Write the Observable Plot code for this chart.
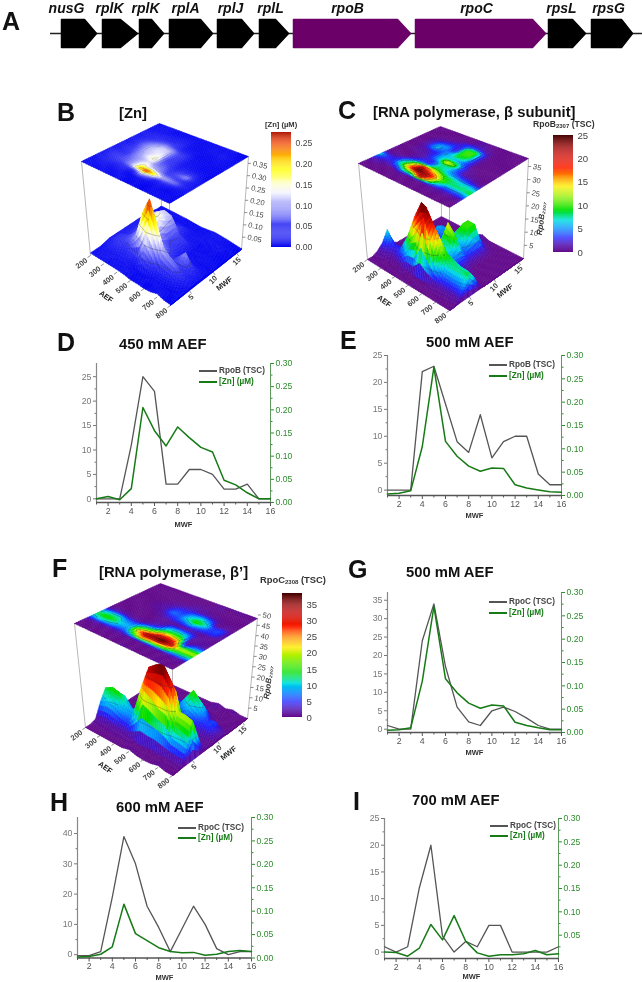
<!DOCTYPE html>
<html><head><meta charset="utf-8">
<script src="https://cdn.jsdelivr.net/npm/d3@7"></script>
<script src="https://cdn.jsdelivr.net/npm/@observablehq/plot@0.6"></script>
<style>
html,body{margin:0;padding:0;background:#fff}
#page{position:relative;width:642px;height:982px;overflow:hidden;font-family:"Liberation Sans",Arial,sans-serif;filter:blur(0.35px)}
.tag{position:absolute;font-weight:bold;font-size:25px;line-height:25px;color:#111}
.ttl{position:absolute;font-weight:bold;font-size:14.8px;line-height:14px;color:#111;white-space:nowrap}
.lg{position:absolute;font-size:8.2px;line-height:10px;white-space:nowrap;font-weight:bold}
.sw{position:absolute;height:1.5px;width:18px}
.cbt{position:absolute;font-weight:bold;font-size:8.6px;line-height:10px;color:#333;white-space:nowrap}
sub{font-size:6px;vertical-align:-1px;line-height:0}
</style></head><body><div id="page"></div>
<script>
// ---------- gene map ----------
const geneNames = ["nusG","rplK","rplK","rplA","rplJ","rplL","rpoB","rpoC","rpsL","rpsG"];
const geneStart = [61,102,139,169,217,259,293,415,548,591];
const geneShoulder = [84,120,151,200,241,275,397,532,572,621];
const geneEnd = [96,137,163,212,253,288,410,545,585,632];
const geneMid = [66,109,145,185,230,270,347,476,561,608];
const targetGene = ["rpoB","rpoC"];

// ---------- fraction axes ----------
const mwf = [1,2,3,4,5,6,7,8,9,10,11,12,13,14,15,16];
const aef = [200,250,300,350,400,450,500,550,600,650,700,750,800];

// ---------- [Zn] (uM) ----------
const zn200 = [.01,.01,.01,.015,.02,.02,.02,.02,.02,.02,.02,.02,.02,.015,.01,.01];
const zn250 = [.01,.015,.02,.03,.04,.04,.03,.03,.03,.03,.03,.03,.025,.02,.015,.01];
const zn300 = [.01,.015,.02,.04,.05,.05,.04,.05,.06,.07,.06,.04,.03,.02,.015,.01];
const zn350 = [.01,.01,.02,.03,.06,.07,.08,.09,.105,.105,.09,.06,.03,.02,.01,.01];
const zn400 = [.01,.01,.02,.04,.10,.10,.10,.125,.12,.125,.115,.07,.03,.02,.01,.01];
const zn450 = [.008,.013,.006,.03,.205,.155,.122,.163,.14,.119,.109,.048,.038,.021,.008,.008];
const zn500 = [.003,.005,.01,.105,.275,.116,.084,.063,.052,.059,.058,.023,.016,.012,.008,.007];
const zn550 = [.004,.005,.01,.07,.2,.09,.07,.05,.04,.04,.04,.02,.012,.012,.01,.01];
const zn600 = [.002,.003,.008,.024,.115,.052,.037,.022,.014,.011,.012,.006,.008,.014,.016,.014];
const zn650 = [.005,.006,.008,.025,.09,.05,.06,.03,.015,.01,.01,.008,.008,.015,.012,.012];
const zn700 = [.014,.013,.005,.022,.073,.04,.092,.037,.012,.005,.008,.008,.01,.017,.008,.01];
const zn750 = [.005,.005,.005,.012,.03,.025,.03,.02,.01,.006,.006,.006,.006,.008,.006,.006];
const zn800 = [.003,.003,.003,.005,.01,.01,.01,.008,.005,.004,.004,.004,.004,.004,.003,.003];
// trace drawn beside RpoC in the 500 mM panel
const znWithRpoC500 = [.005,.006,.01,.11,.27,.115,.085,.063,.052,.059,.057,.022,.015,.01,.006,.006];

// ---------- RpoB 2307 (TSC) ----------
const rpoB200 = [0,0,1,3,7,1,0,0,0,0,0,0,0,0,0,0];
const rpoB250 = [0,0,1,2,3,1,0,0,0,0,0,0,0,0,0,0];
const rpoB300 = [0,0,0,2,3,2,0,0,1,1,2,2,1,0,0,0];
const rpoB350 = [0,0,0,4,9,6,2,1,1,2,6,5,2,0,0,0];
const rpoB400 = [0,0,1,9,18,14,4,2,3,3,4,5,3,1,0,0];
const rpoB450 = [0,0,0,11,25,22,3,3,6,6,5,2,2,3,0,0];
const rpoB500 = [0,0,0,22,23,16,9,7,14,6,9,10,10,3,1,1];
const rpoB550 = [0,0,0,14,18,13,7,7,11,5,8,10,10,2,1,0];
const rpoB600 = [0,0,1,7,11,9,5,4,4,3,3,3,3,1,0,0];
const rpoB650 = [0,0,1,4,8,8,4,1,1,0,0,0,0,0,0,0];
const rpoB700 = [0,0,1,4,8,7,3,1,0,0,0,0,0,0,0,0];
const rpoB750 = [0,0,1,4,8,7,2,0,0,0,0,0,0,0,0,0];
const rpoB800 = [0,0,1,5,9,6,1,0,0,0,0,0,0,0,0,0];

// ---------- RpoC 2308 (TSC) ----------
const rpoC200 = [0,0,1,8,13,8,1,0,0,0,0,0,0,0,0,0];
const rpoC250 = [0,0,1,10,15,11,2,0,0,0,0,0,0,0,0,0];
const rpoC300 = [0,0,1,9,14,11,2,0,0,0,0,0,0,0,0,0];
const rpoC350 = [0,0,1,7,10,7,1,0,0,0,1,1,0,0,0,0];
const rpoC400 = [0,0,1,6,9,6,1,0,0,1,2,2,1,0,0,0];
const rpoC450 = [0,0,1,13,23,13,3,1,1,3,7,5,2,0,0,0];
const rpoC500 = [1,0,0,24,34,17,6,2,1,5,6,4.8,3,1,0,0];
const rpoC550 = [0,0,0,22,37,28,14,8,1,6,11,8,2,1,0,0];
const rpoC600 = [-.3,-.3,1,19,39,30,16,9,1,8.5,16,10,2,0,1,1];
const rpoC650 = [0,0,0,18,33,26,14,8,2,6,12,7,1,0,0,0];
const rpoC700 = [1,0,1,12,20,3,0,2,1,5,5,0,0,0,0,1];
const rpoC750 = [0,0,1,11,20,8,2,1,1,5,6,1,0,0,0,0];
const rpoC800 = [0,0,1,10,19,10,1,1,0,1,1,0,0,0,0,0];

// second-axis values
const znTicks = [0,.05,.10,.15,.20,.25,.30];
const znMinor = [.025,.075,.125,.175,.225,.275];

// colour ramps
const znStops = [0,.05,.10,.13,.155,.185,.215,.25,.276];
const znRamp = ["#0000f0","#3a3af5","#a8a8fa","#f2f2ff","#ffffc0","#ffff00","#ffc000","#f04000","#a81000"];
const rainbowStops = [0,.06,.12,.2,.27,.36,.48,.56,.64,.72,.86,1];
const rainbowRamp = ["#620a8c","#5010b0","#2020ff","#0090ff","#00e0e0","#00e000","#a0f000","#ffee00","#ff9000","#ff2000","#b80000","#400000"];

const page = document.getElementById("page");
const font = '"Liberation Sans",Arial,sans-serif';
function place(node,x,y){node.style.position="absolute";node.style.left=x+"px";node.style.top=y+"px";page.appendChild(node);return node}
function html(cls,x,y,s,color){const d=document.createElement("div");d.className=cls;d.style.left=x+"px";d.style.top=y+"px";d.innerHTML=s||"";if(color)d.style.color=color;page.appendChild(d);return d}

// ---------- A: gene map ----------
const genePts = geneNames.flatMap((g,i)=>[
  {i,g,x:geneStart[i],y:-1},{i,g,x:geneShoulder[i],y:-1},{i,g,x:geneEnd[i],y:0},{i,g,x:geneShoulder[i],y:1},{i,g,x:geneStart[i],y:1}]);
const geneColor = g=>targetGene.includes(g)?"#6a0068":"#000";
place(Plot.plot({width:642,height:60,margin:0,style:{background:"transparent",fontFamily:font},
  x:{domain:[0,642],axis:null},y:{domain:[-1.93,2.36],axis:null},
  marks:[
    Plot.ruleY([0],{x1:()=>50,x2:()=>642,stroke:"#222",strokeWidth:1.3}),
    Plot.line(genePts,{x:"x",y:"y",z:"i",fill:{value:d=>geneColor(d.g),scale:null},stroke:{value:d=>geneColor(d.g),scale:null},curve:"linear-closed"}),
    Plot.text(geneNames,{x:(d,i)=>geneMid[i],y:()=>1.76,text:d=>d,fontStyle:"italic",fontWeight:"bold",fontSize:14,fill:"#111"})
  ]}),0,0);

// ---------- 3-D panels ----------
function makeProj(c,k){
  return (a,m,z=0)=>{
    const u=(a-200)/600,v=(m-1)/15;
    const x=(1-u)*(1-v)*c.L[0]+u*(1-v)*c.B[0]+u*v*c.R[0]+(1-u)*v*c.T[0];
    const y=(1-u)*(1-v)*c.L[1]+u*(1-v)*c.B[1]+u*v*c.R[1]+(1-u)*v*c.T[1];
    return [x,y-z*k];
  };
}
function buildSurface(grid,proj,colorScale,levels,wall,sub,contourColor,contourW){
  const rows=grid.map((r,i)=>({a:aef[i],r}));
  if(wall) rows.push({a:800,r:mwf.map(()=>0)});
  const pts=[];let id=0;
  for(let i=0;i<rows.length-1;i++){
    const A=rows[i],Bb=rows[i+1];
    for(let si=0;si<sub;si++){
      for(let j=mwf.length-2;j>=0;j--){
        for(let sj=sub-1;sj>=0;sj--){
          const val=(p,q)=>{const t=(si+p)/sub,s=(sj+q)/sub;
            return (1-t)*((1-s)*A.r[j]+s*A.r[j+1])+t*((1-s)*Bb.r[j]+s*Bb.r[j+1]);};
          const pos=(p,q)=>{const t=(si+p)/sub,s=(sj+q)/sub;
            return [A.a+(Bb.a-A.a)*t,mwf[j]+s];};
          const corners=[[0,0],[1,0],[1,1],[0,1]].map(([p,q])=>{const [a,m]=pos(p,q);const v=val(p,q);const [x,y]=proj(a,m,v);return {x,y,v};});
          const mean=d3.mean(corners,c=>c.v);
          const col=colorScale.apply(mean);
          corners.forEach(c=>pts.push({id,x:c.x,y:c.y,f:col,s:col,w:.5}));
          pts.push({id,x:corners[0].x,y:corners[0].y,f:col,s:col,w:.5});
          id++;
          for(const L of levels){
            const cross=[];
            for(let e=0;e<4;e++){
              const c0=corners[e],c1=corners[(e+1)%4];
              if((c0.v-L)*(c1.v-L)<0){
                const t=(L-c0.v)/(c1.v-c0.v);
                cross.push({x:c0.x+t*(c1.x-c0.x),y:c0.y+t*(c1.y-c0.y)});
              }
            }
            if(cross.length>=2){
              pts.push({id,x:cross[0].x,y:cross[0].y,f:"none",s:contourColor,w:contourW});
              pts.push({id,x:cross[1].x,y:cross[1].y,f:"none",s:contourColor,w:contourW});
              id++;
            }
          }
        }
      }
    }
  }
  return pts;
}
function panel3D(o){
  const colorScale=Plot.scale({color:{type:"linear",domain:o.stops,range:o.ramp,clamp:true}});
  const floor=makeProj(o.floor,o.k), top=makeProj(o.top,0);
  const topPts=buildSurface(o.grid,top,colorScale,o.levelsTop,false,3,o.contourTop,.4);
  const surfPts=buildSurface(o.grid,floor,colorScale,o.levels,true,4,"#333",.3);
  const zx=z=>{const t=z*o.k/(o.floor.R[1]-o.top.R[1]);return o.floor.R[0]+(o.top.R[0]-o.floor.R[0])*t;};
  const zy=z=>floor(800,16,z)[1];
  const frameCorners=["L","R","T","B"];
  const poly=(pts)=>Plot.line(pts,{x:"x",y:"y",z:"id",fill:{value:"f",scale:null},stroke:{value:"s",scale:null},strokeWidth:{value:"w",scale:null}});
  const aefLab=[200,300,400,500,600,700,800];
  const mwfLab=[5,10,15];
  const W=o.box[2],H=o.box[3];
  const txt={fontSize:7.5,fill:"#444",fontWeight:"bold"};
  place(Plot.plot({width:W,height:H,margin:0,style:{background:"transparent",fontFamily:font,overflow:"visible"},
    x:{domain:[o.box[0],o.box[0]+W],range:[0,W],axis:null},
    y:{domain:[o.box[1],o.box[1]+H],range:[0,H],axis:null},
    marks:[
      Plot.link(frameCorners,{x1:c=>o.top[c][0],y1:c=>o.top[c][1],x2:c=>o.floor[c][0],y2:c=>o.floor[c][1],stroke:"#b8b8b8",strokeWidth:1}),
      poly(surfPts),
      poly(topPts),
      Plot.link(aefLab,{x1:d=>floor(d,1)[0],y1:d=>floor(d,1)[1],x2:d=>floor(d,1)[0]-3,y2:d=>floor(d,1)[1]+2,stroke:"#444",strokeWidth:.6}),
      Plot.link(mwfLab,{x1:d=>floor(800,d)[0],y1:d=>floor(800,d)[1],x2:d=>floor(800,d)[0]+2,y2:d=>floor(800,d)[1]+3,stroke:"#444",strokeWidth:.6}),
      Plot.link(o.zTicks,{x1:zx,y1:zy,x2:d=>zx(d)+3,y2:zy,stroke:"#444",strokeWidth:.6}),
      Plot.text(aefLab,{x:d=>floor(d,1)[0]-4,y:d=>floor(d,1)[1]+4,text:d=>String(d),rotate:-38,textAnchor:"end",...txt}),
      Plot.text(mwfLab,{x:d=>floor(800,d)[0]+3,y:d=>floor(800,d)[1]+5,text:d=>String(d),rotate:-45,textAnchor:"end",...txt}),
      Plot.text(o.zTicks,{x:d=>zx(d)+5,y:zy,text:d=>o.zFmt(d),rotate:12,textAnchor:"start",...txt,fontWeight:"normal"}),
      Plot.text(["AEF"],{x:()=>floor(550,1)[0]-31,y:()=>floor(550,1)[1]+12,text:d=>d,rotate:36,fontSize:7.5,fontWeight:"bold",fill:"#222"}),
      Plot.text(["MWF"],{x:()=>floor(800,9)[0]+16,y:()=>floor(800,9)[1]+8,text:d=>d,rotate:-38,fontSize:7.5,fontWeight:"bold",fill:"#222"}),
      ...(o.zTitle?[Plot.text([o.zTitle],{x:()=>o.zTitleAt[0],y:()=>o.zTitleAt[1],text:d=>d,rotate:-82,fontSize:8,fontWeight:"bold",fontStyle:"italic",fill:"#333"})]:[])
    ]}),o.box[0],o.box[1]);
  // colour bar
  const [cx,cy,cw,ch,cTop]=o.bar;
  const steps=d3.range(0,120).map(i=>i*cTop/120);
  place(Plot.plot({width:cw+34,height:ch+10,marginTop:5,marginBottom:5,marginLeft:0,marginRight:34,style:{background:"transparent",fontFamily:font},
    x:{domain:[0,1],axis:null},y:{domain:[0,cTop],axis:null},
    color:{type:"linear",domain:o.stops,range:o.ramp,clamp:true},
    marks:[
      Plot.rect(steps,{x1:()=>0,x2:()=>1,y1:d=>d,y2:d=>d+cTop/119,fill:d=>d}),
      Plot.axisY({anchor:"right",ticks:o.barTicks,tickFormat:o.barFmt,tickSize:0,tickPadding:4,fontSize:o.barFont,color:"#444",label:null})
    ]}),cx,cy-5);
}
const toGrid=(...rows)=>rows;
panel3D({grid:toGrid(zn200,zn250,zn300,zn350,zn400,zn450,zn500,zn550,zn600,zn650,zn700,zn750,zn800),
  stops:znStops,ramp:znRamp,box:[40,110,225,205],
  top:{L:[81,161],B:[169,203],R:[248,156],T:[159,123]},
  floor:{L:[90,255],B:[170,305],R:[241,249],T:[161,208]},k:246,
  levels:[.05,.10,.15,.20,.25],levelsTop:[.10,.15,.20],contourTop:"#8a8ab8",
  zTicks:[.05,.10,.15,.20,.25,.30,.35],zFmt:d=>d.toFixed(2),
  bar:[271,132,20,115,.276],barTicks:[0,.05,.10,.15,.20,.25],barFmt:d=>d.toFixed(2),barFont:8.6});
panel3D({grid:toGrid(rpoB200,rpoB250,rpoB300,rpoB350,rpoB400,rpoB450,rpoB500,rpoB550,rpoB600,rpoB650,rpoB700,rpoB750,rpoB800),
  stops:rainbowStops.map(d=>d*25),ramp:rainbowRamp,box:[335,115,218,205],
  top:{L:[358,163],B:[449,207],R:[528,158],T:[440,126]},
  floor:{L:[367,259],B:[449,310],R:[523,258],T:[441,216]},k:2.63,
  levels:[5,10,15,20],levelsTop:[5,10,15,20],contourTop:"#333",
  zTicks:[5,10,15,20,25,30,35],zFmt:d=>String(d),zTitle:"RpoB₂₃₀₇",zTitleAt:[541,218],
  bar:[553,135,20,117,25],barTicks:[0,5,10,15,20,25],barFmt:d=>String(d),barFont:9.6});
panel3D({grid:toGrid(rpoC200,rpoC250,rpoC300,rpoC350,rpoC400,rpoC450,rpoC500,rpoC550,rpoC600,rpoC650,rpoC700,rpoC750,rpoC800),
  stops:rainbowStops.map(d=>d*38.7),ramp:rainbowRamp,box:[45,570,232,225],
  top:{L:[74,623],B:[172,669],R:[257,618],T:[160,583]},
  floor:{L:[85,727],B:[172,775],R:[247,718],T:[160,679]},k:2.07,
  levels:[10,20,30],levelsTop:[10,20,30],contourTop:"#333",
  zTicks:[5,10,15,20,25,30,35,40,45,50],zFmt:d=>String(d),zTitle:"RpoB₂₃₀₇",zTitleAt:[268,682],
  bar:[282,593,20,124,38.7],barTicks:[0,5,10,15,20,25,30,35],barFmt:d=>String(d),barFont:9.6});

// ---------- line charts ----------
function lineChart(o){
  const {left,right,top,bottom,lo,hi,a,b,nameA,minor,major}=o;
  const w=right-left,h=bottom-top,mL=26,mR=30,mT=6,mB=28;
  const toY=z=>lo+z/.30*(hi-lo);
  const fromY=y=>(y-lo)/(hi-lo)*.30;
  const rowsA=mwf.map((m,i)=>({m,v:a[i]}));
  const rowsB=mwf.map((m,i)=>({m,v:toY(b[i])}));
  const evenT=[2,4,6,8,10,12,14,16];
  const oddT=[1,3,5,7,9,11,13,15];
  place(Plot.plot({width:w+mL+mR,height:h+mT+mB,marginLeft:mL,marginRight:mR,marginTop:mT,marginBottom:mB,
    style:{background:"transparent",fontFamily:font,overflow:"visible"},
    x:{domain:[1,16],axis:null},y:{domain:[lo,hi],axis:null},
    marks:[
      Plot.ruleX([1],{stroke:"#888",strokeWidth:1.2}),
      Plot.ruleX([16],{stroke:"#5a9a5a",strokeWidth:1}),
      Plot.ruleY([lo],{stroke:"#555",strokeWidth:1.4}),
      Plot.axisX({ticks:evenT,tickSize:4,tickPadding:1,fontSize:8.8,color:"#555",label:null,anchor:"bottom"}),
      Plot.axisX({ticks:oddT,tickSize:2.5,tickFormat:()=>"",color:"#555",label:null,anchor:"bottom"}),
      Plot.axisY({anchor:"left",ticks:major,tickSize:3,tickPadding:2,fontSize:8.8,color:"#777",label:null}),
      Plot.axisY({anchor:"left",ticks:minor,tickSize:1.5,tickFormat:()=>"",color:"#777",label:null}),
      Plot.axisY({anchor:"right",ticks:o.znT.map(toY),tickFormat:d=>fromY(d).toFixed(2),tickSize:3,tickPadding:2,fontSize:8.6,color:"#2e8b2e",label:null}),
      Plot.axisY({anchor:"right",ticks:znMinor.map(toY),tickSize:1.5,tickFormat:()=>"",color:"#2e8b2e",label:null}),
      Plot.line(rowsA,{x:"m",y:"v",stroke:"#555",strokeWidth:1.3}),
      Plot.line(rowsB,{x:"m",y:"v",stroke:"#167a16",strokeWidth:1.5}),
      Plot.text(["MWF"],{x:()=>8.5,y:()=>lo,dy:o.mwfDy,text:d=>d,fontWeight:"bold",fontSize:7.5,fill:"#333"})
    ]}),left-mL,top-mT);
  // legend
  const [lx,ly1,ly2]=o.legend;
  html("sw",lx,ly1).style.background="#555";
  html("sw",lx,ly2).style.background="#167a16";
  html("lg",lx+20,ly1-4.5,nameA,"#444");
  html("lg",lx+20,ly2-4.5,"[Zn] (µM)","#167a16");
}
const m5=[0,5,10,15,20,25], h5=[2.5,7.5,12.5,17.5,22.5];
lineChart({left:96,right:270,top:363,bottom:502,lo:-.75,hi:27.7,a:rpoB450,b:zn450,nameA:"RpoB (TSC)",major:m5,minor:h5,znT:znTicks,legend:[199,370,381],mwfDy:22});
lineChart({left:387,right:561,top:355,bottom:495,lo:-1,hi:25,a:rpoB500,b:zn500,nameA:"RpoB (TSC)",major:m5,minor:h5,znT:znTicks,legend:[489,364,375],mwfDy:20});
lineChart({left:387,right:561,top:592,bottom:732,lo:-.9,hi:37.1,a:rpoC500,b:znWithRpoC500,nameA:"RpoC (TSC)",major:[0,5,10,15,20,25,30,35],minor:[2.5,7.5,12.5,17.5,22.5,27.5,32.5],znT:znTicks,legend:[489,601,612],mwfDy:20});
lineChart({left:77,right:251,top:817,bottom:957.5,lo:-1.1,hi:45.3,a:rpoC600,b:zn600,nameA:"RpoC (TSC)",major:[0,10,20,30,40],minor:[5,15,25,35],znT:znTicks,legend:[178,827,837],mwfDy:20});
lineChart({left:384,right:558,top:818,bottom:958,lo:-1.2,hi:25,a:rpoC700,b:zn700,nameA:"RpoC (TSC)",major:m5,minor:h5,znT:znTicks.slice(1),legend:[490,825,835],mwfDy:18});

// ---------- letters, titles ----------
const tags=[["A",2,9],["B",57,100],["C",338,98],["D",57,330],["E",340,328],["F",52,556],["G",348,557],["H",50,790],["I",353,789]];
tags.forEach(([t,x,y])=>html("tag",x,y,t));
const titles=[["[Zn]",119,106],["[RNA polymerase, β subunit]",373,105],["450 mM AEF",119,337],["500 mM AEF",426,335],["[RNA polymerase, β’]",99,565],["500 mM AEF",406,565],["600 mM AEF",116,800],["700 mM AEF",412,793]];
titles.forEach(([t,x,y])=>html("ttl",x,y,t));
html("cbt",265,120,"[Zn] (µM)").style.fontSize="7.6px";
html("cbt",533,119,"RpoB<sub>2307</sub> (TSC)");
html("cbt",260,575,"RpoC<sub>2308</sub> (TSC)").style.fontSize="9.4px";
</script></body></html>
